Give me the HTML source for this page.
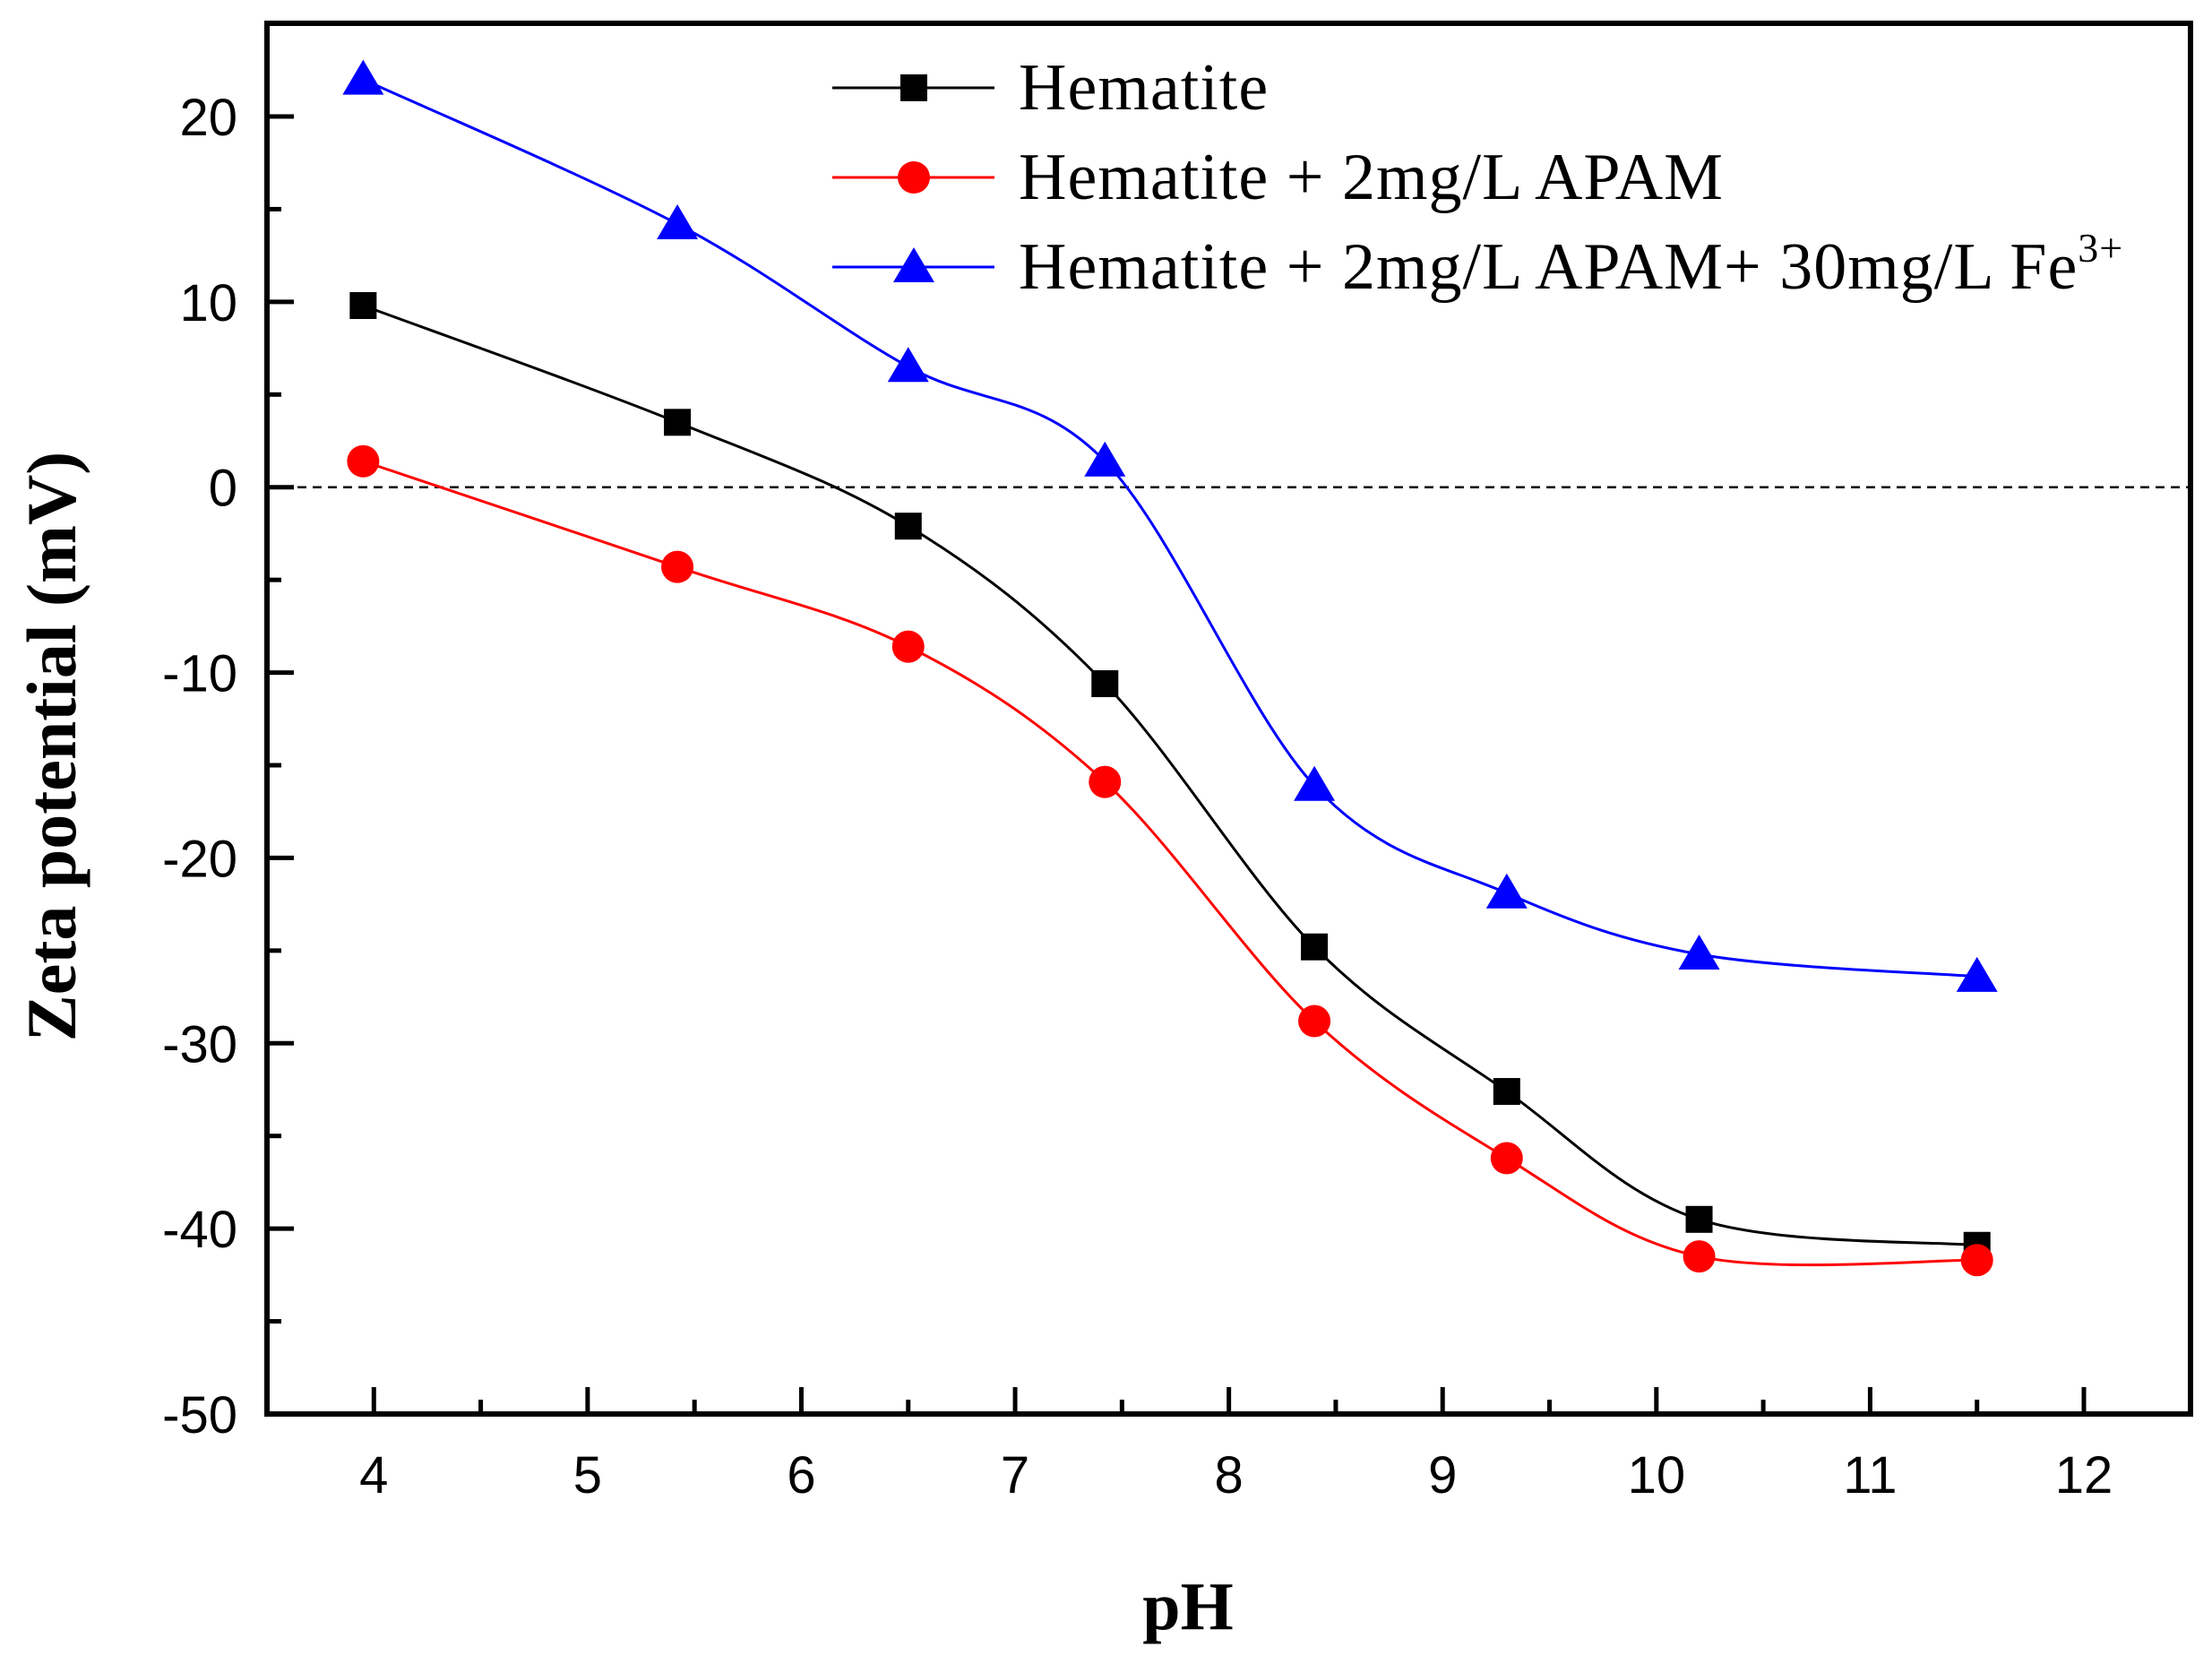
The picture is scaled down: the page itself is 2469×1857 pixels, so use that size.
<!DOCTYPE html>
<html><head><meta charset="utf-8"><style>html,body{margin:0;padding:0;background:#fff}</style></head>
<body>
<svg id="chart" width="2469" height="1852" xmlns="http://www.w3.org/2000/svg">
<g id="axes"></g><g id="series"></g><g id="legend"></g>
</svg>
<script>
const xValues = [3.95, 5.42, 6.5, 7.42, 8.4, 9.3, 10.2, 11.5];
const hematite = [9.8, 3.5, -2.1, -10.6, -24.8, -32.6, -39.5, -40.9];
const hematiteApam = [1.4, -4.3, -8.6, -15.9, -28.8, -36.2, -41.5, -41.7];
const hematiteApamFe = [22, 14.2, 6.5, 1.4, -16.1, -21.9, -25.2, -26.4];
const xTicks = [4,5,6,7,8,9,10,11,12];
const yTicks = [20,10,0,-10,-20,-30,-40,-50];

const L=298,R=2445,T=26,B=1578;
const X=v=>298+(v-3.5)*(2326-298)/8.5;
const Y=v=>130+(20-v)*(1578-130)/70;
const NS='http://www.w3.org/2000/svg';
function mk(tag,attrs,parent){const e=document.createElementNS(NS,tag);for(const k in attrs)e.setAttribute(k,attrs[k]);parent.appendChild(e);return e;}
const axes=document.getElementById('axes'),series=document.getElementById('series'),legend=document.getElementById('legend');

let z=mk('line',{x1:L,x2:R,y1:Y(0),y2:Y(0),stroke:'#000','stroke-width':2.5,'stroke-dasharray':'10,7'},axes);



let f=mk('rect',{x:L,y:T,width:R-L,height:B-T,fill:'none',stroke:'#000','stroke-width':6},axes);



for(let i=0;i<xTicks.length;i++){
  const v=xTicks[i],x=X(v);
  mk('line',{x1:x,x2:x,y1:B,y2:B-30,stroke:'#000','stroke-width':5},axes);
  if(i<xTicks.length-1){const xm=X(v+0.5);mk('line',{x1:xm,x2:xm,y1:B,y2:B-16,stroke:'#000','stroke-width':5},axes);}
  const t=mk('text',{x:x,y:1666,'text-anchor':'middle','font-family':'Liberation Sans, sans-serif','font-size':58},axes);
  t.textContent=v;
  
  
}
for(let i=0;i<yTicks.length;i++){
  const v=yTicks[i],y=Y(v);
  mk('line',{x1:L,x2:L+30,y1:y,y2:y,stroke:'#000','stroke-width':5},axes);
  if(v>-50){const ym=Y(v-5);mk('line',{x1:L,x2:L+16,y1:ym,y2:ym,stroke:'#000','stroke-width':5},axes);}
  const t=mk('text',{x:265,y:y+21,'text-anchor':'end','font-family':'Liberation Sans, sans-serif','font-size':58},axes);
  t.textContent=v;
  
  
}
let xt=mk('text',{x:1326,y:1818,'text-anchor':'middle','font-family':'Liberation Serif, serif','font-size':76,'font-weight':'bold'},axes);
xt.textContent='pH';


let yt=mk('text',{x:0,y:0,'text-anchor':'middle','font-family':'Liberation Serif, serif','font-size':78,'font-weight':'bold',transform:'translate(84,833) rotate(-90)'},axes);
yt.textContent='Zeta potential (mV)';



function spline(xs,ys){
  const p=xs.map((v,i)=>[X(v),Y(ys[i])]);
  let d='M'+p[0][0]+','+p[0][1];
  for(let i=0;i<p.length-1;i++){
    const p0=p[Math.max(0,i-1)],p1=p[i],p2=p[i+1],p3=p[Math.min(p.length-1,i+2)];
    const c1=[p1[0]+(p2[0]-p0[0])/6,p1[1]+(p2[1]-p0[1])/6];
    const c2=[p2[0]-(p3[0]-p1[0])/6,p2[1]-(p3[1]-p1[1])/6];
    d+=' C'+c1+' '+c2+' '+p2;
  }
  return d;
}
function marker(type,x,y,color,parent){
  if(type==='square')return mk('rect',{x:x-15,y:y-15,width:30,height:30,fill:color},parent);
  if(type==='circle')return mk('circle',{cx:x,cy:y,r:18,fill:color},parent);
  return mk('polygon',{points:`${x},${y-22} ${x-23},${y+17} ${x+23},${y+17}`,fill:color},parent);
}
const defs=[['hematite',hematite,'#000','square','Hematite'],['hematite-apam',hematiteApam,'#ff0000','circle','Hematite + 2mg/L APAM'],['hematite-apam-fe',hematiteApamFe,'#0000ff','triangle','Hematite + 2mg/L APAM+ 30mg/L Fe']];
defs.forEach((s,k)=>{
  const g=mk('g',{},series);
  
  
  mk('path',{d:spline(xValues,s[1]),fill:'none',stroke:s[2],'stroke-width':3},g);
  xValues.forEach((v,i)=>{
    const m=marker(s[3],X(v),Y(s[1][i]),s[2],g);
    
    
  });
  const ly=98+k*100;
  const lg=mk('g',{},legend);
  
  
  mk('line',{x1:929,x2:1110,y1:ly,y2:ly,stroke:s[2],'stroke-width':3},lg);
  marker(s[3],1020,ly,s[2],lg);
  const t=mk('text',{x:1137,y:ly+24,'font-family':'Liberation Serif, serif','font-size':74,'letter-spacing':1},lg);
  t.textContent=s[4];
  if(k===2){const sup=mk('tspan',{'font-size':46,dy:-30},t);sup.textContent='3+';}
});
</script>
</body></html>
